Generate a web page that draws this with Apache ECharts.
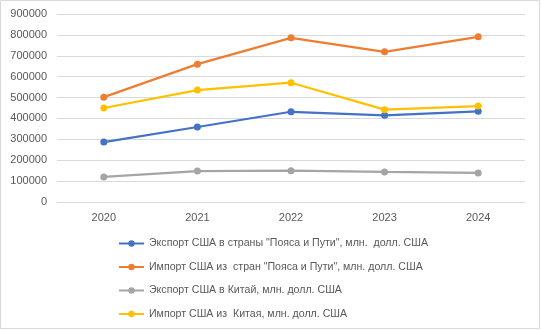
<!DOCTYPE html>
<html><head><meta charset="utf-8">
<script src="https://cdn.jsdelivr.net/npm/echarts@6/dist/echarts.min.js"></script>
<style>html,body{margin:0;padding:0;background:#fff}#c{width:541px;height:330px}</style>
</head><body><div id="c"></div>
<script>
const years = ['2020','2021','2022','2023','2024'];
const exportBRI = [287000, 359000, 432000, 415000, 434000];
const importBRI = [502000, 660000, 786000, 719000, 791000];
const exportChina = [120000, 148000, 150000, 144000, 139000];
const importChina = [450000, 536000, 571000, 442000, 459000];
const names = [
  'Экспорт США в страны "Пояса и Пути", млн.  долл. США',
  'Импорт США из  стран "Пояса и Пути", млн. долл. США',
  'Экспорт США в Китай, млн. долл. США',
  'Импорт США из  Китая, млн. долл. США'
];
const colors = ['#4472C4','#ED7D31','#A5A5A5','#FFC000'];
const data = [exportBRI, importBRI, exportChina, importChina];
const chart = echarts.init(document.getElementById('c'));
chart.setOption({
  animation: false,
  textStyle: {fontFamily: '"Liberation Sans", Arial, sans-serif'},
  graphic: [{type:'rect', shape:{x:0.5,y:0.5,width:539,height:328}, style:{fill:'none', stroke:'#D9D9D9', lineWidth:1}, silent:true}],
  grid: {left: 57, right: 16, top: 14, bottom: 128},
  xAxis: {
    type: 'category', data: years, boundaryGap: true,
    axisLine: {lineStyle: {color: '#D9D9D9'}},
    axisTick: {show: false},
    axisLabel: {color: '#595959', fontSize: 11, margin: 10}
  },
  yAxis: {
    type: 'value', min: 0, max: 900000, interval: 100000,
    axisLine: {show: false}, axisTick: {show: false},
    splitLine: {lineStyle: {color: '#D9D9D9'}},
    axisLabel: {color: '#595959', fontSize: 11, margin: 10, formatter: v => String(v)}
  },
  legend: {
    orient: 'vertical', left: 118, top: 238, itemGap: 12.5, padding: 0,
    itemWidth: 25, itemHeight: 8,
    textStyle: {color: '#595959', fontSize: 10.6},
    data: names
  },
  series: names.map((n, i) => ({
    name: n, type: 'line', data: data[i],
    symbol: 'circle', symbolSize: 7,
    lineStyle: {width: 2.25, color: colors[i]},
    itemStyle: {color: colors[i]}
  }))
});
</script></body></html>
